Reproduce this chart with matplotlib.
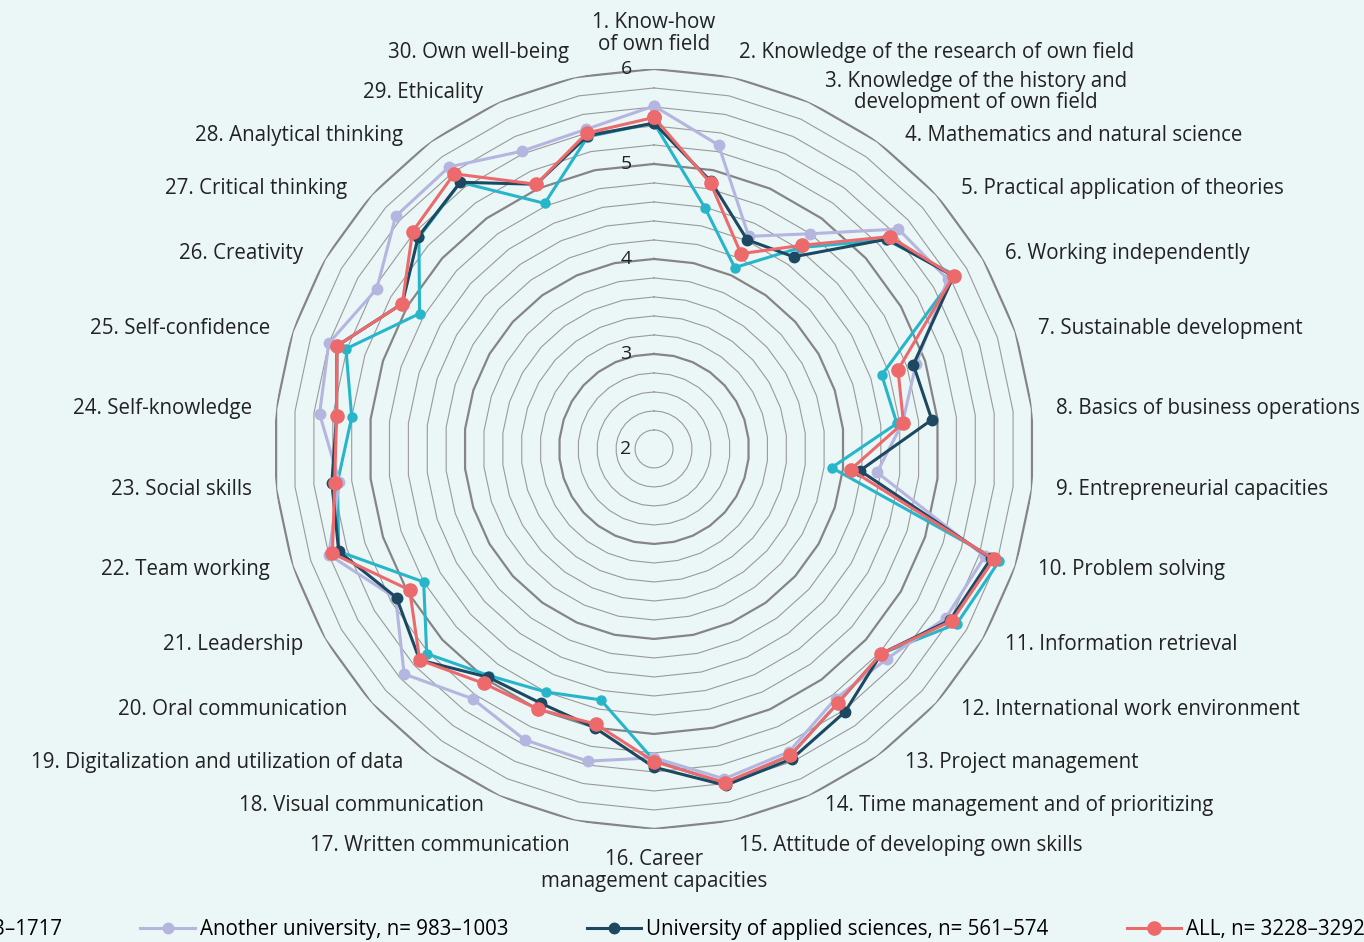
import numpy as np
import matplotlib
matplotlib.use("Agg")
import matplotlib.pyplot as plt

plt.rcParams['font.family'] = ['Open Sans', 'DejaVu Sans']

# --- data --------------------------------------------------------------
categories = [
    "1. Know-how\nof own field",
    "2. Knowledge of the research of own field",
    "3. Knowledge of the history and\ndevelopment of own field",
    "4. Mathematics and natural science",
    "5. Practical application of theories",
    "6. Working independently",
    "7. Sustainable development",
    "8. Basics of business operations",
    "9. Entrepreneurial capacities",
    "10. Problem solving",
    "11. Information retrieval",
    "12. International work environment",
    "13. Project management",
    "14. Time management and of prioritizing",
    "15. Attitude of developing own skills",
    "16. Career\nmanagement capacities",
    "17. Written communication",
    "18. Visual communication",
    "19. Digitalization and utilization of data",
    "20. Oral communication",
    "21. Leadership",
    "22. Team working",
    "23. Social skills",
    "24. Self-knowledge",
    "25. Self-confidence",
    "26. Creativity",
    "27. Critical thinking",
    "28. Analytical thinking",
    "29. Ethicality",
    "30. Own well-being",
]

university = [5.43, 4.59, 4.09, 4.62, 5.29, 5.66, 4.52, 4.57, 3.88, 5.82,
              5.68, 5.22, 5.30, 5.53, 5.60, 5.28, 4.70, 4.80, 4.95, 5.22,
              4.80, 5.49, 5.35, 5.20, 5.41, 4.85, 5.33, 5.47, 4.83, 5.36]
another_univ = [5.61, 5.27, 4.45, 4.80, 5.46, 5.57, 4.90, 4.63, 4.36, 5.66,
                5.55, 5.30, 5.25, 5.49, 5.55, 5.25, 5.36, 5.35, 5.25, 5.54,
                5.14, 5.60, 5.33, 5.54, 5.60, 5.37, 5.66, 5.67, 5.43, 5.44]
uas = [5.43, 4.88, 4.41, 4.50, 5.30, 5.64, 4.87, 4.94, 4.18, 5.73,
       5.60, 5.22, 5.42, 5.57, 5.62, 5.35, 5.00, 4.93, 4.97, 5.32,
       5.13, 5.49, 5.41, 5.36, 5.51, 5.06, 5.34, 5.47, 5.05, 5.37]
all_grads = [5.49, 4.86, 4.25, 4.65, 5.34, 5.64, 4.70, 4.64, 4.08, 5.76,
             5.62, 5.22, 5.30, 5.53, 5.59, 5.29, 4.96, 5.00, 5.05, 5.32,
             4.97, 5.56, 5.38, 5.36, 5.51, 5.06, 5.42, 5.58, 5.05, 5.40]

series_names = ["University of Eastern Finland, n= 1683–1717",
                "Another university, n= 983–1003",
                "University of applied sciences, n= 561–574",
                "ALL, n= 3228–3292"]

r_ticks = [2, 3, 4, 5, 6]

# --- figure ------------------------------------------------------------
bg = '#ebf6f7'
fs = 14.8
fig = plt.figure(figsize=(13.64, 9.42), dpi=100, facecolor=bg)
ax = fig.add_axes([0.2009, 0.12, 0.5572, 0.8068], projection='polar')
ax.set_facecolor(bg)
ax.set_theta_offset(np.pi / 2)
ax.set_theta_direction(-1)
ax.set_ylim(2, 6)
ax.grid(False)
ax.spines['polar'].set_visible(False)
ax.set_xticks([])
ax.set_yticks([])

n = len(categories)
theta = np.arange(n) * 2 * np.pi / n
theta_c = np.append(theta, theta[0])

# polygon gridlines every 0.2, heavier at whole numbers
for lv in np.arange(2.2, 6.001, 0.2):
    major = abs(lv - round(lv)) < 1e-6
    ax.plot(theta_c, [lv] * (n + 1), color='#858585' if major else '#9a9a9a',
            lw=1.6 if major else 0.8, zorder=1)

for v in r_ticks:
    ax.annotate(str(v), xy=(0, v), xytext=(-28, 0), textcoords='offset pixels',
                ha='center', va='center', fontsize=14, color='#222222', zorder=2)

# series
styles = [
    (university, '#27b6c9', 6.5),
    (another_univ, '#b4b6df', 7.5),
    (uas, '#1c4861', 7.5),
    (all_grads, '#ec6a6c', 9.5),
]
for (vals, col, ms), name in zip(styles, series_names):
    vv = np.append(vals, vals[0])
    ax.plot(theta_c, vv, color=col, lw=2.2, marker='o', ms=ms,
            label=name, zorder=3)

# category labels around the chart
for t, lab in zip(theta, categories):
    s, c = np.sin(t), np.cos(t)
    # angle from the nearest vertical, in degrees
    d = np.degrees(np.arccos(abs(c)))
    bump = np.exp(-((d - 36) / 14) ** 2)
    if abs(s) < 0.05:
        ha = 'center'
        va = 'bottom' if c > 0 else 'top'
        xo, yo = 0, (394 if c > 0 else 400) * c
    else:
        ha = 'left' if s > 0 else 'right'
        va = 'center'
        xo = 404 * s + 13 * bump * np.sign(s)
        yo = (391 + 30 * np.exp(-(d / 14) ** 2) - 4 * bump) * c
    ax.text(0.5 + xo / 760, 0.5 + yo / 760, lab, transform=ax.transAxes,
            ha=ha, va=va, multialignment='center', fontsize=fs,
            color='#222222', linespacing=1.05)

# legend along the bottom, cut off at the left edge
leg = fig.legend(loc='center left', ncol=4, frameon=False, fontsize=fs,
                 handlelength=2.65, handletextpad=0.25, columnspacing=3.8,
                 bbox_to_anchor=(0, 12 / 942))
fig.canvas.draw()
tb = leg.get_texts()[1].get_window_extent()
shift = (200 - tb.x0) / fig.bbox.width
leg.set_bbox_to_anchor((shift, 12 / 942), transform=fig.transFigure)

fig.savefig('out.png', dpi=100, facecolor=bg)
